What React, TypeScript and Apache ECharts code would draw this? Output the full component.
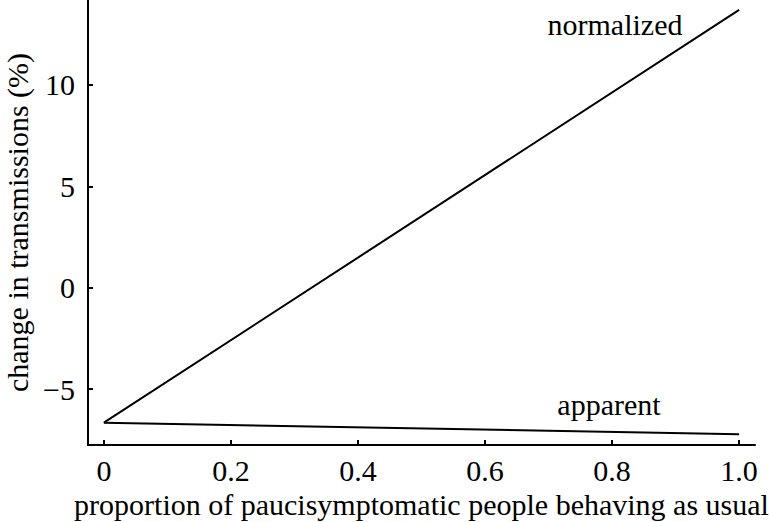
import React, { useEffect, useRef } from "react";
import * as echarts from "echarts";

const xValues = [0, 1.0];
const normalizedValues = [-6.66, 13.7];
const apparentValues = [-6.66, -7.23];
const xTicks = [0, 0.2, 0.4, 0.6, 0.8, 1.0];
const yTicks = [-5, 0, 5, 10];
const seriesNames = ["normalized", "apparent"];

const FONT = "'Liberation Serif', 'Times New Roman', serif";
const FS = 30;

export default function App() {
  const ref = useRef<HTMLDivElement>(null);
  useEffect(() => {
    const chart = echarts.init(ref.current!, null, { renderer: "svg" });
    const axisCommon = {
      axisLine: { show: true, onZero: false, lineStyle: { color: "#000", width: 2 } },
      axisTick: { show: true, inside: true, length: 5, lineStyle: { color: "#000", width: 2 } },
      splitLine: { show: false },
      nameTextStyle: { fontFamily: FONT, fontSize: FS, color: "#000" },
    };
    chart.setOption({
      animation: false,
      backgroundColor: "#fff",
      grid: { left: 88, right: 14, top: 0, bottom: 77, outerBoundsMode: "none", containLabel: false },
      xAxis: {
        type: "value",
        min: -0.025,
        max: 1.025,
        name: "proportion of paucisymptomatic people behaving as usual",
        nameLocation: "middle",
        nameGap: 33,
        ...axisCommon,
        axisTick: { ...axisCommon.axisTick, customValues: xTicks },
        axisLabel: {
          customValues: xTicks,
          formatter: (v: number) => (v === 0 ? "0" : v.toFixed(1)),
          fontFamily: FONT,
          fontSize: FS,
          color: "#000",
          margin: 10,
        },
      },
      yAxis: {
        type: "value",
        min: -7.76,
        max: 14.19,
        name: "change in transmissions (%)",
        nameLocation: "middle",
        nameGap: 56,
        ...axisCommon,
        axisTick: { ...axisCommon.axisTick, customValues: yTicks },
        axisLabel: {
          customValues: yTicks,
          formatter: (v: number) => (v < 0 ? "\u2212" + Math.abs(v) : String(v)),
          fontFamily: FONT,
          fontSize: FS,
          color: "#000",
          margin: 13,
        },
      },
      series: [
        {
          name: seriesNames[0],
          type: "line",
          data: xValues.map((x, i) => [x, normalizedValues[i]]),
          symbol: "none",
          lineStyle: { color: "#000", width: 2 },
        },
        {
          name: seriesNames[1],
          type: "line",
          data: xValues.map((x, i) => [x, apparentValues[i]]),
          symbol: "none",
          lineStyle: { color: "#000", width: 2 },
        },
      ],
      graphic: [
        {
          type: "text",
          x: 615,
          y: 9,
          style: { text: seriesNames[0], font: `${FS}px ${FONT}`, fill: "#000", align: "center", verticalAlign: "top" },
        },
        {
          type: "text",
          x: 609,
          y: 389,
          style: { text: seriesNames[1], font: `${FS}px ${FONT}`, fill: "#000", align: "center", verticalAlign: "top" },
        },
      ],
    });
    return () => chart.dispose();
  }, []);
  return <div ref={ref} style={{ width: 769, height: 522, position: "absolute", left: 0, top: 0 }} />;
}
